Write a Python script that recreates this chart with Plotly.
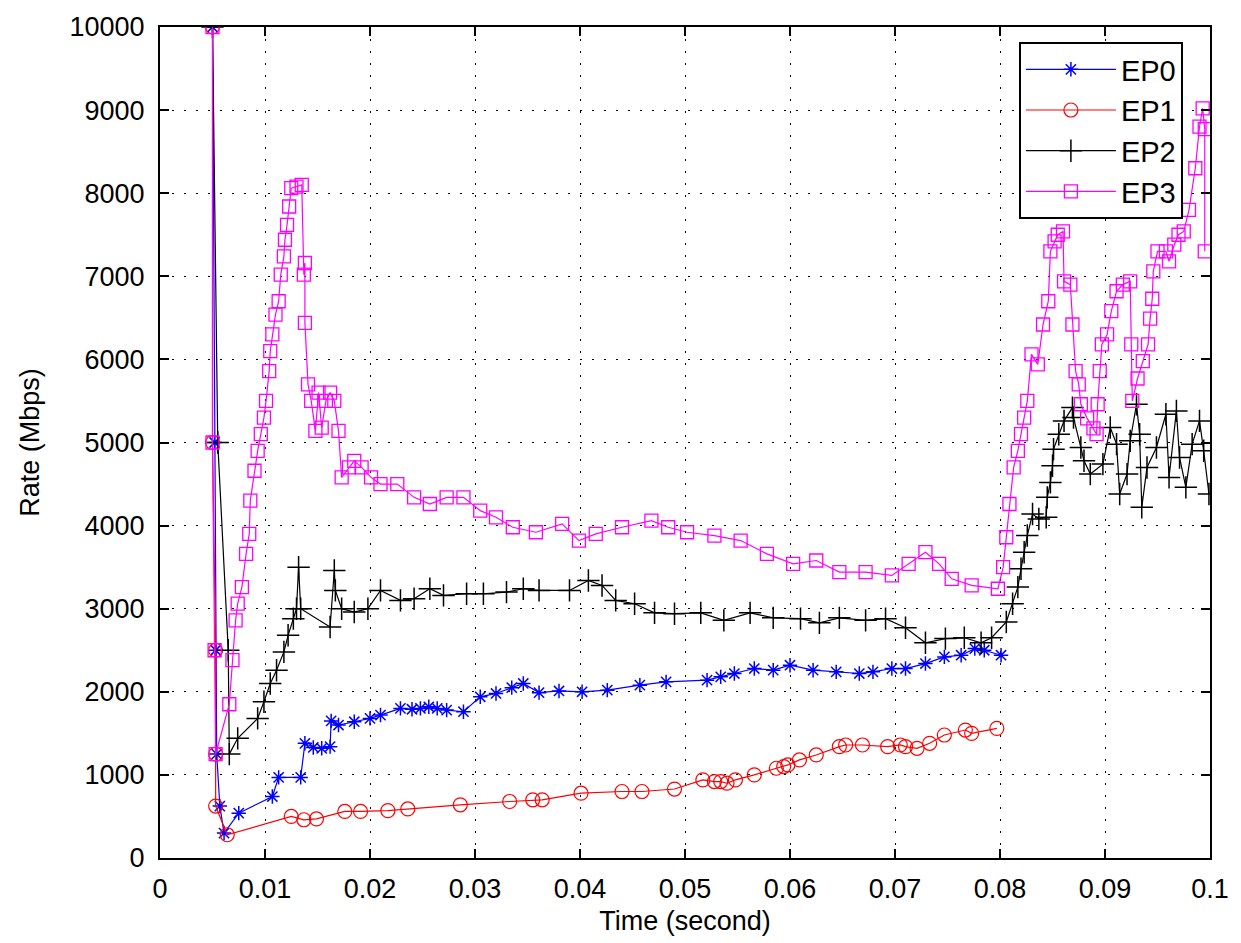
import plotly.graph_objects as go

# ---------------- data ----------------
ep0_x = [0.0050, 0.0052, 0.0053, 0.0054, 0.0057, 0.0061, 0.0075, 0.0107, 0.0113, 0.0134,
         0.0138, 0.0146, 0.0154, 0.0162, 0.0163, 0.0170, 0.0185, 0.0200, 0.0210, 0.0229,
         0.0240, 0.0248, 0.0256, 0.0264, 0.0273, 0.0289, 0.0305, 0.0320, 0.0335, 0.0346,
         0.0361, 0.0380, 0.0402, 0.0426, 0.0457, 0.0482, 0.0521, 0.0534, 0.0547, 0.0566,
         0.0584, 0.0600, 0.0622, 0.0644, 0.0666, 0.0679, 0.0697, 0.0710, 0.0729, 0.0747,
         0.0763, 0.0776, 0.0785, 0.0801]
ep0_y = [10000, 5000, 2500, 1250, 625, 300, 540, 740, 970, 970,
         1380, 1330, 1320, 1340, 1650, 1600, 1640, 1680, 1720, 1800,
         1790, 1800, 1820, 1800, 1780, 1760, 1940, 1980, 2050, 2100,
         1990, 2010, 2000, 2020, 2080, 2120, 2140, 2180, 2220, 2280,
         2260, 2320, 2260, 2240, 2220, 2240, 2280, 2280, 2340, 2420,
         2440, 2520, 2500, 2440]

ep1_x = [0.0050, 0.0050, 0.0053, 0.0053, 0.0053, 0.0064, 0.0125, 0.0137, 0.0149, 0.0176,
         0.0191, 0.0217, 0.0236, 0.0286, 0.0333, 0.0355, 0.0364, 0.0401, 0.0440, 0.0459,
         0.0490, 0.0517, 0.0528, 0.0534, 0.0540, 0.0548, 0.0566, 0.0587, 0.0594, 0.0598,
         0.0609, 0.0625, 0.0647, 0.0653, 0.0669, 0.0693, 0.0705, 0.0710, 0.0721, 0.0733,
         0.0747, 0.0767, 0.0773, 0.0797]
ep1_y = [10000, 5000, 2500, 1250, 625, 280, 500, 460, 470, 560,
         560, 570, 590, 640, 680, 700, 700, 780, 800, 800,
         830, 940, 920, 920, 900, 940, 1000, 1080, 1100, 1120,
         1180, 1240, 1340, 1360, 1360, 1340, 1360, 1340, 1320, 1380,
         1480, 1540, 1500, 1560]

ep2_x = [0.0050, 0.0055, 0.0065, 0.0066, 0.0074, 0.0093, 0.0099, 0.0105, 0.0111, 0.0118,
         0.0122, 0.0127, 0.0130, 0.0132, 0.0134, 0.0162, 0.0166, 0.0167, 0.0173, 0.0185,
         0.0198, 0.0210, 0.0229, 0.0242, 0.0257, 0.0270, 0.0292, 0.0308, 0.0330, 0.0346,
         0.0361, 0.0390, 0.0408, 0.0421, 0.0434, 0.0452, 0.0471, 0.0490, 0.0515, 0.0537,
         0.0562, 0.0584, 0.0610, 0.0628, 0.0647, 0.0672, 0.0691, 0.0710, 0.0729, 0.0748,
         0.0766, 0.0782, 0.0792, 0.0806, 0.0812, 0.0817, 0.0820, 0.0823, 0.0826, 0.0831,
         0.0837, 0.0844, 0.0845, 0.0848, 0.0850, 0.0851, 0.0856, 0.0861, 0.0869, 0.0870,
         0.0877, 0.0880, 0.0886, 0.0898, 0.0905, 0.0911, 0.0914, 0.0921, 0.0924, 0.0930,
         0.0933, 0.0935, 0.0940, 0.0949, 0.0958, 0.0961, 0.0968, 0.0971, 0.0977, 0.0983,
         0.0990, 0.0994, 0.0999]
ep2_y = [10000, 5000, 2500, 1250, 1440, 1680, 1880, 2100, 2260, 2480,
         2680, 2880, 3000, 3500, 3000, 2780, 3460, 3220, 3000, 2960,
         3000, 3220, 3100, 3120, 3240, 3160, 3180, 3180, 3200, 3240,
         3220, 3220, 3340, 3280, 3100, 3060, 2950, 2940, 2950, 2860,
         2950, 2890, 2880, 2830, 2890, 2860, 2880, 2770, 2590, 2640,
         2650, 2590, 2650, 2840, 3060, 3260, 3480, 3680, 3880, 4140,
         4080, 4100, 4340, 4520, 4720, 4920, 5100, 5260, 5420, 5300,
         4940, 4780, 4620, 4740, 5180, 4980, 4380, 4620, 5020, 5460,
         5100, 4220, 4700, 4940, 5340, 4580, 5380, 4820, 4460, 4980,
         5260, 4900, 4380]

ep3_x = [0.0050, 0.0050, 0.0052, 0.0053, 0.0066, 0.0069, 0.0072, 0.0074, 0.0078, 0.0082,
         0.0085, 0.0086, 0.0090, 0.0093, 0.0096, 0.0099, 0.0101, 0.0104, 0.0105, 0.0107,
         0.0110, 0.0113, 0.0115, 0.0118, 0.0119, 0.0121, 0.0123, 0.0125, 0.0130, 0.0135,
         0.0137, 0.0138, 0.0138, 0.0141, 0.0144, 0.0148, 0.0151, 0.0154, 0.0158, 0.0162,
         0.0166, 0.0170, 0.0173, 0.0180, 0.0185, 0.0192, 0.0201, 0.0210, 0.0226, 0.0242,
         0.0257, 0.0273, 0.0289, 0.0305, 0.0320, 0.0336, 0.0358, 0.0383, 0.0399, 0.0415,
         0.0440, 0.0468, 0.0484, 0.0502, 0.0528, 0.0553, 0.0578, 0.0603, 0.0625, 0.0647,
         0.0672, 0.0697, 0.0713, 0.0729, 0.0742, 0.0754, 0.0773, 0.0798, 0.0803, 0.0806,
         0.0809, 0.0813, 0.0817, 0.0820, 0.0823, 0.0826, 0.0830, 0.0836, 0.0841, 0.0846,
         0.0848, 0.0852, 0.0855, 0.0860, 0.0861, 0.0867, 0.0869, 0.0872, 0.0875, 0.0877,
         0.0883, 0.0889, 0.0892, 0.0893, 0.0895, 0.0897, 0.0902, 0.0906, 0.0911, 0.0917,
         0.0924, 0.0925, 0.0926, 0.0931, 0.0936, 0.0941, 0.0943, 0.0945, 0.0946, 0.0950,
         0.0958, 0.0961, 0.0966, 0.0970, 0.0975, 0.0980, 0.0986, 0.0990, 0.0993, 0.0995,
         0.0995]
ep3_y = [10000, 5000, 2500, 1250, 1850, 2380, 2860, 3060, 3260, 3660,
         3900, 4300, 4660, 4900, 5100, 5300, 5500, 5860, 6100, 6300,
         6540, 6700, 7020, 7240, 7440, 7620, 7840, 8060, 8080, 8100,
         7020, 7160, 6440, 5700, 5500, 5140, 5600, 5180, 5500, 5600,
         5500, 5140, 4580, 4700, 4780, 4700, 4580, 4500, 4500, 4340,
         4260, 4340, 4340, 4180, 4100, 3980, 3920, 4020, 3820, 3900,
         3980, 4060, 3980, 3920, 3880, 3820, 3660, 3540, 3580, 3440,
         3440, 3400, 3540, 3680, 3540, 3360, 3280, 3240, 3500, 3860,
         4260, 4700, 4900, 5100, 5300, 5500, 6060, 5940, 6420, 6700,
         7300, 7420, 7500, 7540, 6940, 6900, 6420, 5860, 5700, 5460,
         5290, 5170, 5100, 5460, 5860, 6180, 6300, 6580, 6820, 6900,
         6940, 6180, 5500, 5770, 5980, 6180, 6490, 6730, 7060, 7300,
         7300, 7180, 7380, 7500, 7540, 7800, 8300, 8800, 9020, 8770,
         7300]

series_names = ["EP0", "EP1", "EP2", "EP3"]

x_tick_vals = [0, 0.01, 0.02, 0.03, 0.04, 0.05, 0.06, 0.07, 0.08, 0.09, 0.1]
x_tick_text = ["0", "0.01", "0.02", "0.03", "0.04", "0.05", "0.06", "0.07", "0.08", "0.09", "0.1"]
y_tick_vals = [0, 1000, 2000, 3000, 4000, 5000, 6000, 7000, 8000, 9000, 10000]
y_tick_text = ["0", "1000", "2000", "3000", "4000", "5000", "6000", "7000", "8000", "9000", "10000"]

# ---------------- figure ----------------
FONT = "Liberation Sans, Arial, Helvetica, sans-serif"

styles = [
    dict(color="#0000FF", symbol="asterisk-open", size=12, mlw=1.5),
    dict(color="#FF0000", symbol="circle-open", size=14, mlw=1.2),
    dict(color="#000000", symbol="cross-thin-open", size=16, mlw=1.5),
    dict(color="#FF00FF", symbol="square-open", size=13, mlw=1.3),
]
data = [(ep0_x, ep0_y), (ep1_x, ep1_y), (ep2_x, ep2_y), (ep3_x, ep3_y)]

fig = go.Figure()
for name, (xs, ys), st in zip(series_names, data, styles):
    fig.add_trace(go.Scatter(
        x=xs, y=ys, name=name, mode="lines+markers",
        line=dict(color=st["color"], width=1.2),
        marker=dict(symbol=st["symbol"], size=st["size"], color=st["color"],
                    line=dict(color=st["color"], width=st["mlw"])),
    ))

axis_common = dict(
    showline=True, linecolor="black", linewidth=2, mirror="ticks",
    ticks="inside", ticklen=9, tickwidth=1.5, tickcolor="black",
    showgrid=True, gridcolor="black", gridwidth=1, griddash="2px,10px",
    zeroline=False,
    tickfont=dict(family=FONT, size=27, color="black"),
)

fig.update_xaxes(
    range=[0, 0.1], tickvals=x_tick_vals, ticktext=x_tick_text,
    title=dict(text="Time (second)", font=dict(family=FONT, size=27, color="black"), standoff=8),
    ticklabelstandoff=6,
    **axis_common,
)
fig.update_yaxes(
    range=[0, 10000], tickvals=y_tick_vals, ticktext=y_tick_text,
    title=dict(text="Rate (Mbps)", font=dict(family=FONT, size=27, color="black"), standoff=22),
    ticklabelstandoff=8,
    **axis_common,
)

fig.update_layout(
    width=1241, height=943, autosize=False,
    margin=dict(l=160, r=20, t=25, b=85),
    paper_bgcolor="white", plot_bgcolor="white",
    font=dict(family=FONT, size=27, color="black"),
    legend=dict(
        x=0.818, y=0.982, xanchor="left", yanchor="top",
        bgcolor="white", bordercolor="black", borderwidth=2,
        font=dict(family=FONT, size=29, color="black"),
        itemwidth=90, tracegroupgap=0,
    ),
    showlegend=True,
)

fig.write_html("out.html")
